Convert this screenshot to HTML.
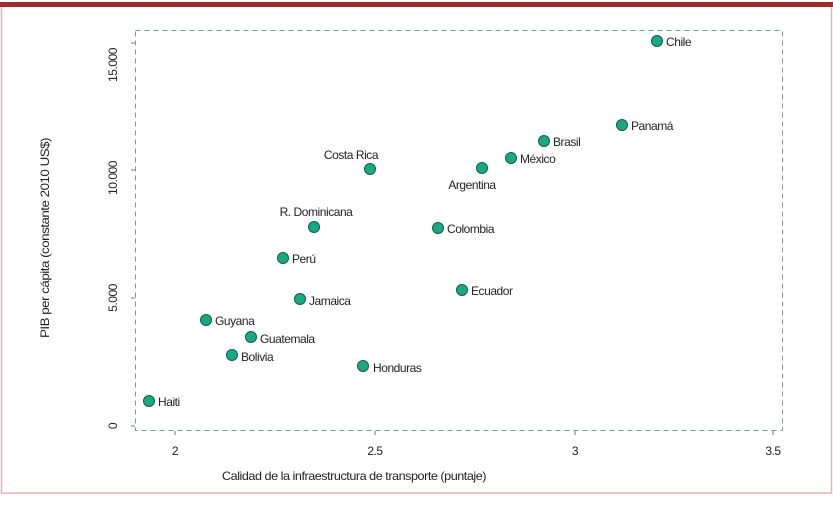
<!DOCTYPE html>
<html><head><meta charset="utf-8"><style>
body{margin:0;background:#fff}
svg{display:block}
text{font-family:"Liberation Sans Narrow","Liberation Sans",sans-serif;font-size:12px;letter-spacing:-0.45px;fill:#222}
</style></head><body>
<svg width="833" height="507" viewBox="0 0 833 507">
<rect x="0" y="0" width="833" height="507" fill="#fff"/>
<rect x="1.5" y="6" width="830" height="487" fill="none" stroke="#e8b4b4" stroke-width="1.5"/>
<rect x="0" y="2" width="833" height="5" fill="#a52a2a"/>
<rect x="135.5" y="30.5" width="647" height="400" fill="none" stroke="#7a9a9a" stroke-dasharray="5,4" stroke-width="1"/>
<g stroke="#777">
<line x1="131" y1="426" x2="135" y2="426"/><line x1="131" y1="298" x2="135" y2="298"/>
<line x1="131" y1="170" x2="135" y2="170"/><line x1="131" y1="43" x2="135" y2="43"/>
<line x1="175" y1="431" x2="175" y2="435"/><line x1="375" y1="431" x2="375" y2="435"/>
<line x1="575" y1="431" x2="575" y2="435"/><line x1="773" y1="431" x2="773" y2="435"/>
</g>
<g text-anchor="middle">
<text transform="translate(117,426) rotate(-90)">0</text>
<text transform="translate(117,298) rotate(-90)">5.000</text>
<text transform="translate(117,178) rotate(-90)">10.000</text>
<text transform="translate(117,65) rotate(-90)">15.000</text>
<text x="175" y="455">2</text><text x="375" y="455">2.5</text>
<text x="575" y="455">3</text><text x="773" y="455">3.5</text>
<text x="354" y="480" textLength="264" lengthAdjust="spacingAndGlyphs">Calidad de la infraestructura de transporte (puntaje)</text>
<text transform="translate(49,238) rotate(-90)" textLength="200" lengthAdjust="spacingAndGlyphs">PIB per cápita (constante 2010 US$)</text>
</g>
<g fill="#1aa882" stroke="#0f5e4a" stroke-width="1">
<circle cx="657" cy="41" r="5.5"/><circle cx="622" cy="125" r="5.5"/>
<circle cx="544" cy="141" r="5.5"/><circle cx="511" cy="158" r="5.5"/>
<circle cx="482" cy="168" r="5.5"/><circle cx="370" cy="169" r="5.5"/>
<circle cx="438" cy="228" r="5.5"/><circle cx="314" cy="227" r="5.5"/>
<circle cx="283" cy="258" r="5.5"/><circle cx="462" cy="290" r="5.5"/>
<circle cx="300" cy="299" r="5.5"/><circle cx="206" cy="320" r="5.5"/>
<circle cx="251" cy="337" r="5.5"/><circle cx="232" cy="355" r="5.5"/>
<circle cx="363" cy="366" r="5.5"/><circle cx="149" cy="401" r="5.5"/>
</g>
<text x="666" y="46">Chile</text>
<text x="631" y="130">Panamá</text>
<text x="553" y="146">Brasil</text>
<text x="520" y="163">México</text>
<text x="472" y="189" text-anchor="middle">Argentina</text>
<text x="351" y="159" text-anchor="middle">Costa Rica</text>
<text x="447" y="233">Colombia</text>
<text x="316" y="216" text-anchor="middle">R. Dominicana</text>
<text x="292" y="263">Perú</text>
<text x="471" y="295">Ecuador</text>
<text x="309" y="305">Jamaica</text>
<text x="215" y="325">Guyana</text>
<text x="260" y="343">Guatemala</text>
<text x="241" y="361">Bolivia</text>
<text x="373" y="372">Honduras</text>
<text x="158" y="406">Haiti</text>
</svg>
</body></html>
